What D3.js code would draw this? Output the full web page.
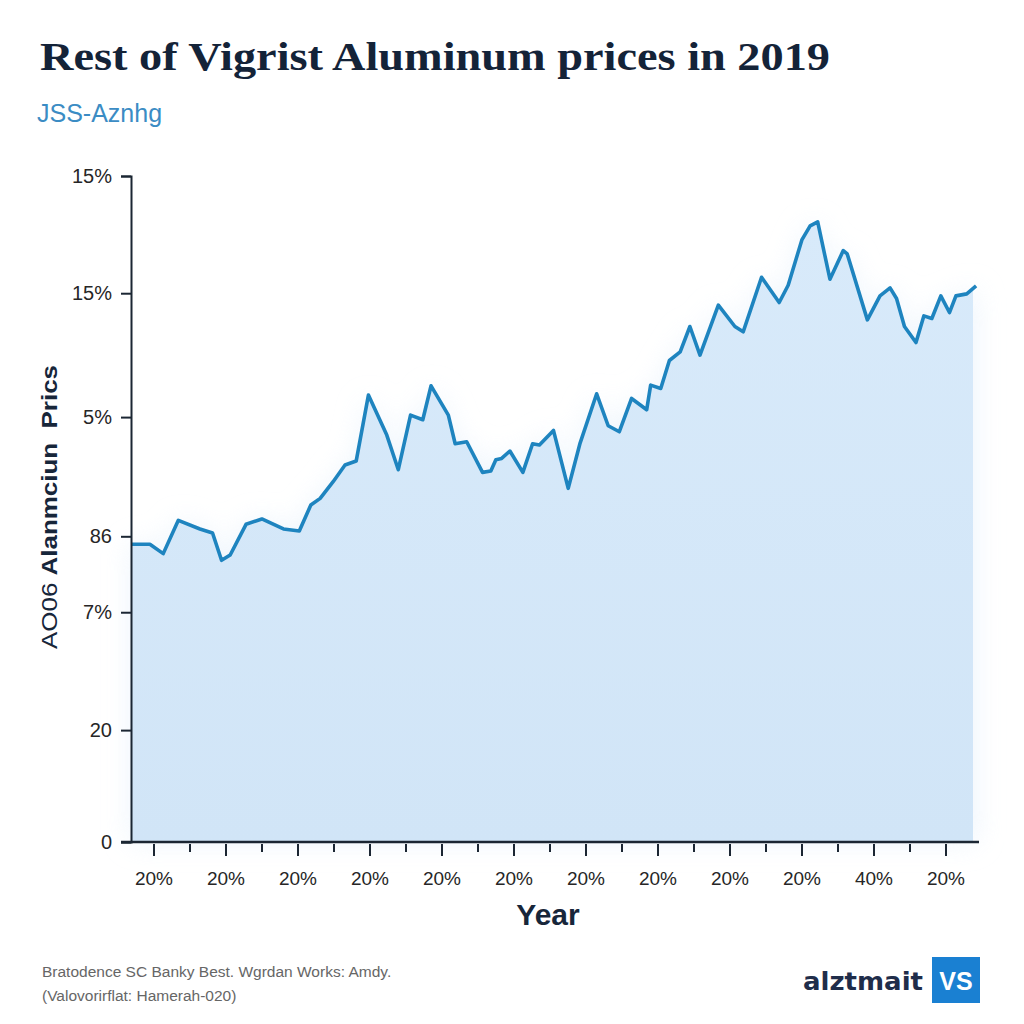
<!DOCTYPE html>
<html><head><meta charset="utf-8">
<script src="https://cdn.jsdelivr.net/npm/d3@7"></script>
<style>body{margin:0;background:#fff}</style>
</head><body>
<svg id="c" width="1024" height="1024"></svg>
<script>
// ---- data ----
const xPos = [-0.625,-0.10,0.27,0.69,1.29,1.64,1.89,2.13,2.57,3.01,3.61,4.05,4.37,4.63,4.99,5.32,5.63,5.97,6.48,6.80,7.14,7.48,7.71,8.19,8.38,8.70,9.14,9.37,9.51,9.67,9.90,10.26,10.53,10.72,11.11,11.52,11.85,12.31,12.63,12.94,13.28,13.70,13.81,14.09,14.33,14.63,14.90,15.18,15.69,16.15,16.38,16.89,17.38,17.63,18.01,18.24,18.45,18.79,19.16,19.27,19.83,20.18,20.46,20.64,20.86,21.18,21.40,21.62,21.87,22.11,22.29,22.59,22.85];
const prices = [44.7,44.7,43.3,48.3,47.0,46.4,42.3,43.1,47.7,48.5,47.0,46.7,50.6,51.6,54.1,56.6,57.2,67.1,61.1,55.9,64.1,63.4,68.5,64.1,59.8,60.1,55.5,55.7,57.4,57.6,58.7,55.5,59.8,59.6,61.8,53.1,59.9,67.3,62.5,61.6,66.6,64.9,68.6,68.1,72.3,73.6,77.4,73.1,80.6,77.4,76.6,84.8,81.0,83.6,90.4,92.5,93.1,84.5,88.8,88.3,78.4,82.0,83.2,81.6,77.4,75.0,79.0,78.6,82.0,79.5,82.0,82.3,83.5];
const yTickValues = [0,16.8,34.5,45.9,63.8,82.4,100];
const yTickLabels = ["0","20","7%","86","5%","15%","15%"];
const xTickValues = [0,1,2,3,4,5,6,7,8,9,10,11,12,13,14,15,16,17,18,19,20,21,22];
const xTickLabels = ["20%","20%","20%","20%","20%","20%","20%","20%","20%","20%","40%","20%"];

const data = xPos.map((x,i)=>({x, y: prices[i]}));
const svg = d3.select("#c");
const mLeft=131, mRight=977, mTop=176, mBottom=842;
const x = d3.scaleLinear().domain([-0.625,22.875]).range([mLeft,mRight]);
const y = d3.scaleLinear().domain([0,100]).range([mBottom,mTop]);

const defs = svg.append("defs");
const f = defs.append("filter").attr("id","glow").attr("x","-10%").attr("y","-20%").attr("width","120%").attr("height","140%");
f.append("feGaussianBlur").attr("stdDeviation",14);
const g = defs.append("linearGradient").attr("id","fillg").attr("x1",0).attr("y1",0).attr("x2",0).attr("y2",1);
g.append("stop").attr("offset","0%").attr("stop-color","#d8eafa");
g.append("stop").attr("offset","100%").attr("stop-color","#d1e5f7");

const area = d3.area().x(d=>x(d.x)).y0(y(0)).y1(d=>y(d.y));
svg.append("path").datum(data).attr("d",area).attr("fill","#e6f1fb").attr("filter","url(#glow)").attr("opacity",0.7);
svg.append("path").datum(data.slice(0,-1).concat([{x:x.invert(973),y:prices[prices.length-1]-0.5}])).attr("d",area).attr("fill","url(#fillg)");
svg.append("path").datum(data).attr("d",d3.line().x(d=>x(d.x)).y(d=>y(d.y)))
  .attr("fill","none").attr("stroke","#1e84bf").attr("stroke-width",3.6).attr("stroke-linejoin","round");

const yAxis = svg.append("g").attr("transform",`translate(${mLeft},0)`)
  .call(d3.axisLeft(y).tickValues(yTickValues).tickSize(10).tickFormat((d,i)=>yTickLabels[i]));
yAxis.select(".domain").attr("stroke","#1b2633").attr("stroke-width",2);
yAxis.selectAll(".tick line").attr("stroke","#1b2633").attr("stroke-width",2);
yAxis.selectAll("text").attr("font-family","Liberation Sans, Arial").attr("font-size",20).attr("fill","#262626").attr("x",-19);

const xAxis = svg.append("g").attr("transform",`translate(0,${mBottom})`)
  .call(d3.axisBottom(x).tickValues(xTickValues).tickSizeOuter(0).tickSize(12).tickFormat(d=> d%2===0 ? xTickLabels[d/2] : ""));
xAxis.select(".domain").attr("stroke","#1b2633").attr("stroke-width",2.4).attr("d",`M${mLeft-10},0H${mRight+2}`);
xAxis.selectAll(".tick line").attr("stroke","#1b2633").attr("stroke-width",2).attr("y1",2).attr("y2",d=>d%2===0?14:10);
xAxis.selectAll("text").attr("font-family","Liberation Sans, Arial").attr("font-size",19).attr("fill","#262626").attr("dy","1.45em");

svg.append("text").attr("x",40).attr("y",70).text("Rest of Vigrist Aluminum prices in 2019")
  .attr("font-family","Liberation Serif, DejaVu Serif, serif").attr("font-weight","bold").attr("font-size",41)
  .attr("fill","#142338").attr("textLength",790).attr("lengthAdjust","spacingAndGlyphs");
svg.append("text").attr("x",37).attr("y",122).text("JSS-Aznhg")
  .attr("font-family","Liberation Sans, Arial").attr("font-size",25).attr("fill","#3b8cc4");

const yt = svg.append("text").attr("transform","translate(57,507) rotate(-90)").attr("text-anchor","middle")
  .attr("font-family","Liberation Sans, Arial").attr("font-size",22).attr("fill","#17263a")
  .attr("textLength",284).attr("lengthAdjust","spacingAndGlyphs");
yt.append("tspan").text("AO06 ");
yt.append("tspan").attr("font-weight","bold").text("Alanmciun\u00a0 Prics");

svg.append("text").attr("x",548).attr("y",925).attr("text-anchor","middle").text("Year")
  .attr("font-family","Liberation Sans, Arial").attr("font-weight","bold").attr("font-size",30).attr("fill","#17263a");

svg.append("text").attr("x",42).attr("y",977).text("Bratodence SC Banky Best. Wgrdan Works: Amdy.")
  .attr("font-family","Liberation Sans, Arial").attr("font-size",15.5).attr("fill","#666");
svg.append("text").attr("x",42).attr("y",1001).text("(Valovorirflat: Hamerah-020)")
  .attr("font-family","Liberation Sans, Arial").attr("font-size",15.5).attr("fill","#666");

svg.append("text").attr("x",923).attr("y",990).attr("text-anchor","end").text("alztmait")
  .attr("font-family","DejaVu Sans, Liberation Sans").attr("font-weight","bold").attr("font-size",24).attr("fill","#1f2d4a")
  .attr("textLength",120).attr("lengthAdjust","spacingAndGlyphs");
svg.append("rect").attr("x",932).attr("y",957).attr("width",48).attr("height",46).attr("fill","#1a80d2");
svg.append("text").attr("x",956).attr("y",990).attr("text-anchor","middle").text("VS")
  .attr("font-family","Liberation Sans, Arial").attr("font-weight","bold").attr("font-size",25).attr("fill","#fff");
</script>
</body></html>
